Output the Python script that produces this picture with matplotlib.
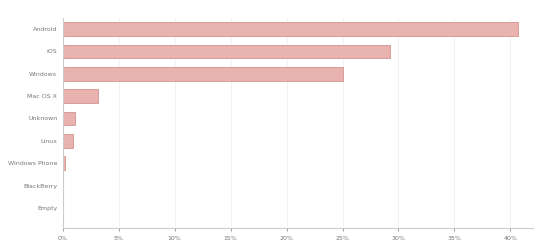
import matplotlib
matplotlib.use("Agg")
from matplotlib import pyplot as plt
from matplotlib.ticker import FuncFormatter

# operating system share
systems = ["Android", "iOS", "Windows", "Mac OS X", "Unknown", "Linux",
           "Windows Phone", "BlackBerry", "Empty"]
share = [40.7, 29.2, 25.0, 3.1, 1.1, 0.9, 0.2, 0.05, 0.0]
ticks = [0, 5, 10, 15, 20, 25, 30, 35, 40]

fig = plt.figure(figsize=(5.37, 2.42), dpi=100)
ax = fig.add_axes([0.117, 0.058, 0.875, 0.868])

ys = range(len(systems))
ax.barh(ys, share, height=0.62, color="#e8b2ae", edgecolor="#d4938e", linewidth=0.6)

ax.set_yticks(list(ys))
ax.set_yticklabels(systems)
ax.set_ylim(8.9, -0.5)
ax.set_xlim(0, 42)
ax.set_xticks(ticks)
ax.xaxis.set_major_formatter(FuncFormatter(lambda v, p: "%d%%" % v))

ax.grid(axis="x", color="#f0f0f0", linewidth=0.6)
ax.set_axisbelow(True)
for s in ["top", "right"]:
    ax.spines[s].set_visible(False)
ax.spines["left"].set_color("#cccccc")
ax.spines["bottom"].set_color("#cccccc")
ax.tick_params(labelsize=4.5, colors="#777777", length=2, width=0.5)
ax.tick_params(axis="y", length=0, pad=4)

plt.savefig("out.png", dpi=100)
